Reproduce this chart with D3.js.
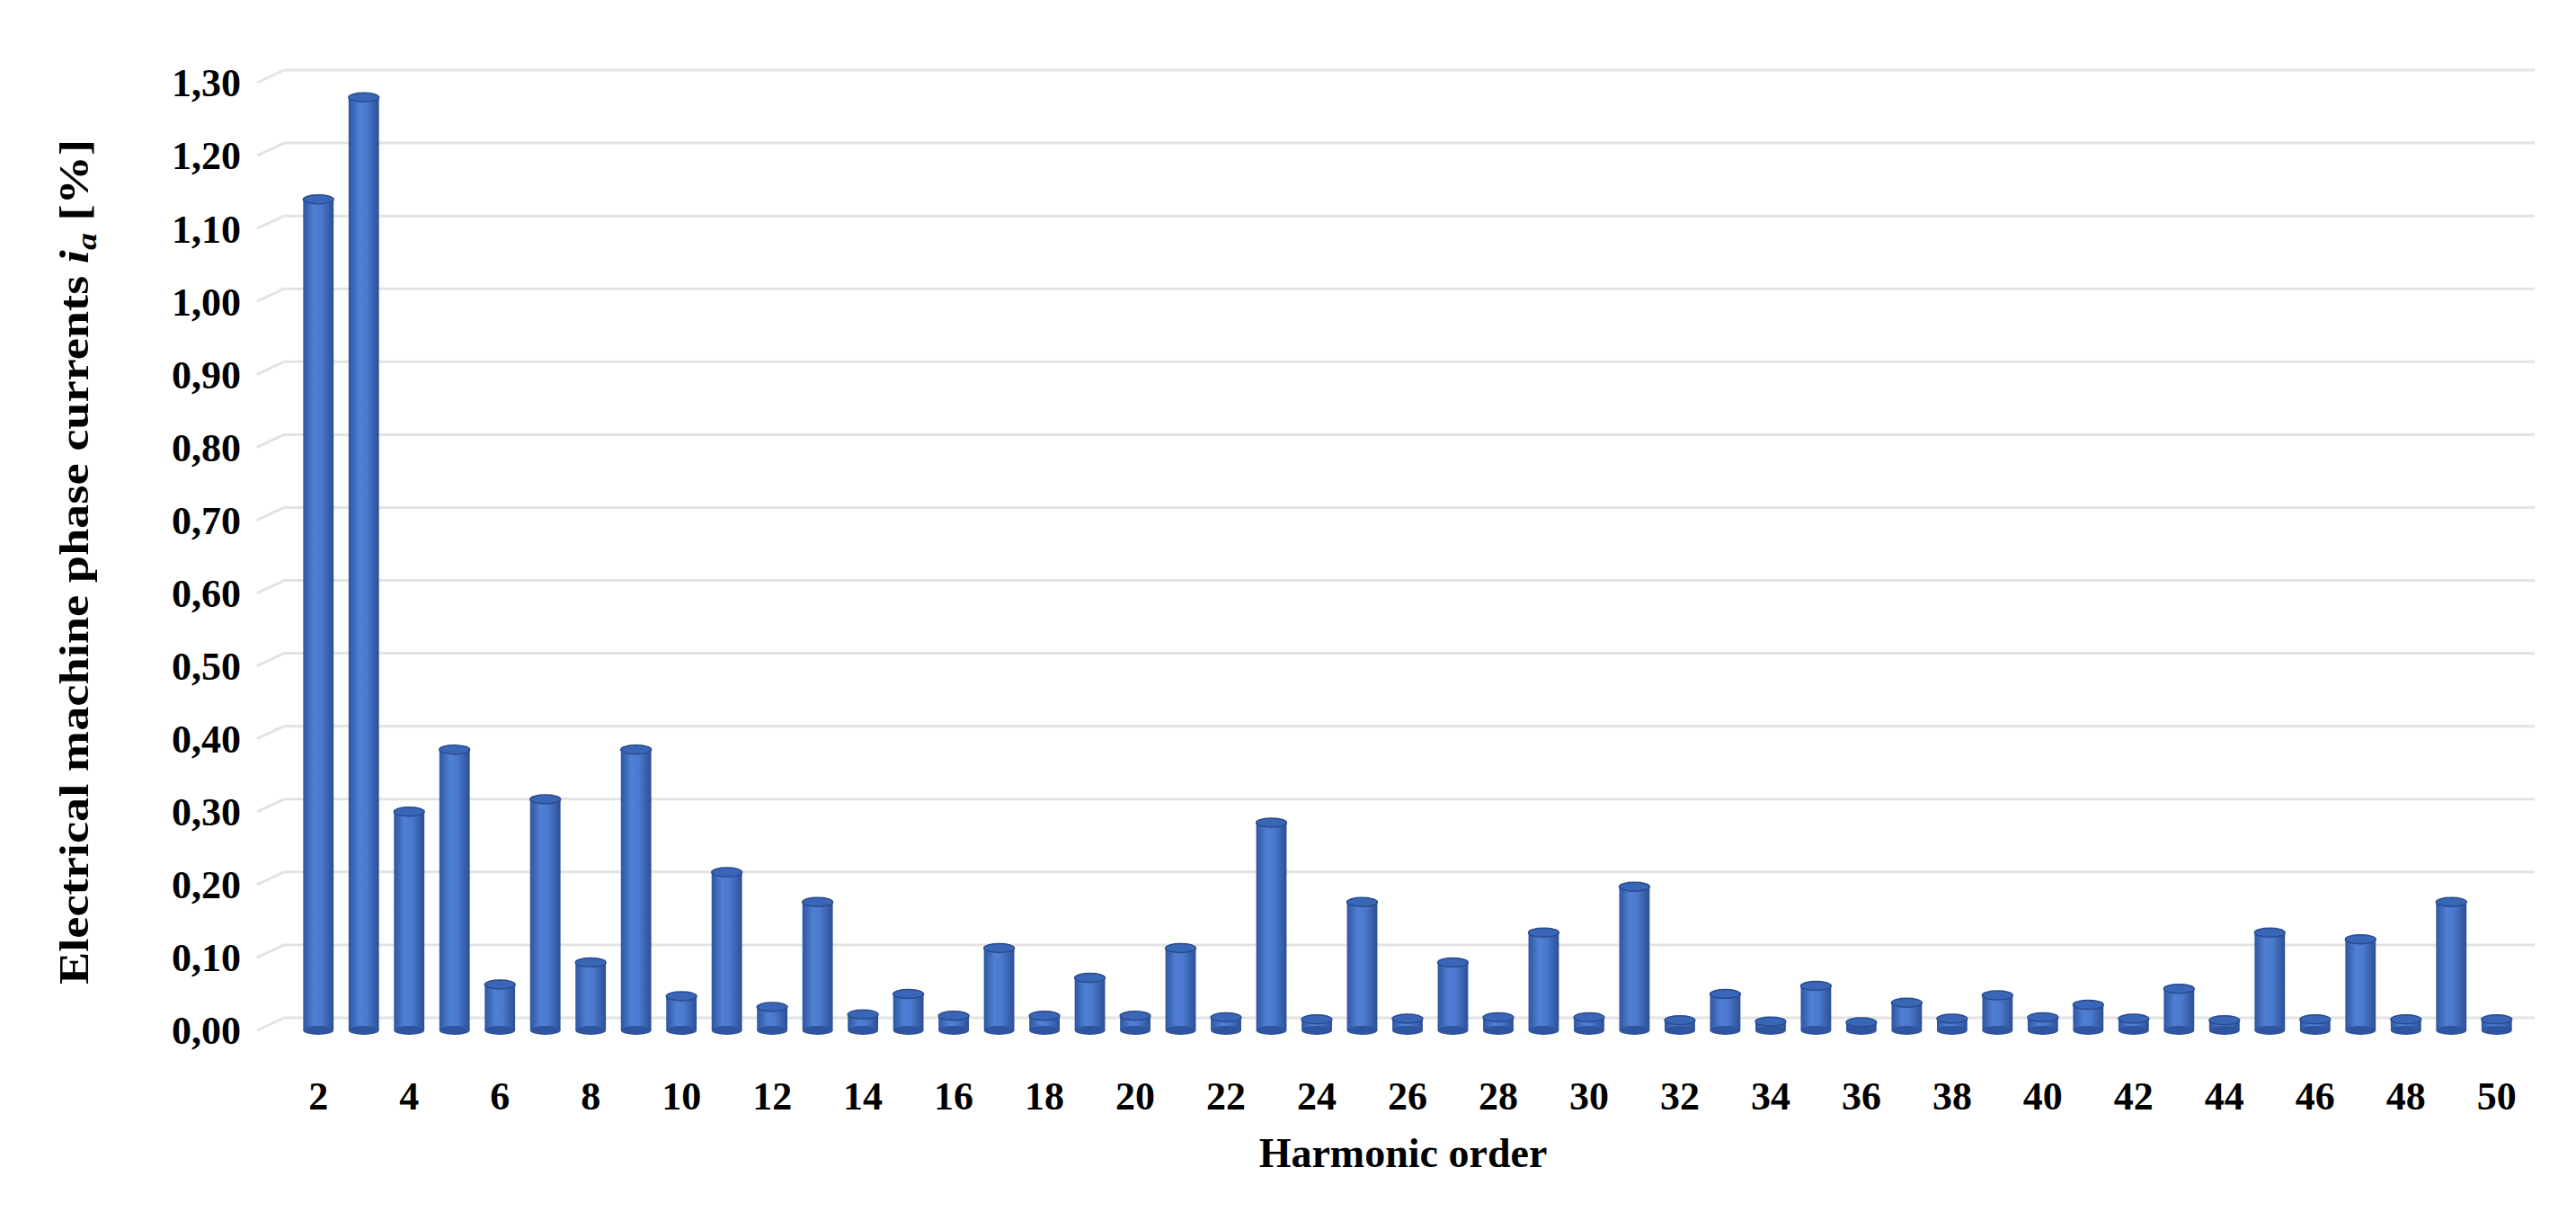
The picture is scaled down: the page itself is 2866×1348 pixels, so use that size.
<!DOCTYPE html>
<html><head><meta charset="utf-8">
<script src="https://cdn.jsdelivr.net/npm/d3@7"></script>
<style>body{margin:0;background:#fff}</style></head>
<body><svg id="c" width="2866" height="1348"></svg>
<script>
const orders = d3.range(2, 51);
const values = [1.14,1.28,0.30,0.385,0.063,0.317,0.093,0.385,0.047,0.217,0.032,0.176,0.022,0.05,0.02,0.113,0.02,0.072,0.02,0.113,0.018,0.285,0.015,0.176,0.016,0.093,0.018,0.134,0.018,0.197,0.014,0.05,0.012,0.061,0.011,0.038,0.016,0.048,0.018,0.035,0.016,0.057,0.014,0.134,0.015,0.125,0.015,0.176,0.015];
const yTicks = d3.range(0, 1.31, 0.1);
const xTickLabels = orders.filter(d => d % 2 === 0);

const svg = d3.select("#c");
const x = d3.scaleBand().domain(orders).range([329, 2803]).paddingInner(0.33).paddingOuter(0.165);
const y = d3.scaleLinear().domain([0, 1.3]).range([1146, 92]);
const fmt = d => d.toFixed(2).replace(".", ",");
const font = "'Liberation Serif','Times New Roman',serif";

const defs = svg.append("defs");
const g = defs.append("linearGradient").attr("id", "cyl").attr("x1", 0).attr("x2", 1).attr("y1", 0).attr("y2", 0);
[[0,"#2f55a0"],[0.35,"#4f80d4"],[0.6,"#4a78cc"],[1,"#2c4f95"]].forEach(([o,c]) => g.append("stop").attr("offset", o).attr("stop-color", c));

const dx = 30, dy = -14;
const grid = svg.append("g");
yTicks.forEach(t => {
  const yy = y(t);
  grid.append("line").attr("x1", 316).attr("x2", 2820).attr("y1", yy + dy).attr("y2", yy + dy).attr("stroke", "#e3e3e3").attr("stroke-width", 3);
  grid.append("line").attr("x1", 316 - dx).attr("x2", 316).attr("y1", yy).attr("y2", yy + dy).attr("stroke", "#e3e3e3").attr("stroke-width", 3);
});

svg.append("g").selectAll("text").data(yTicks).join("text")
  .attr("x", 268).attr("y", d => y(d)).attr("dy", "0.35em").attr("text-anchor", "end")
  .attr("font-family", font).attr("font-weight", "bold").attr("font-size", 44).text(fmt);

const bw = x.bandwidth(), ry = 5;
const bars = svg.append("g").selectAll("g").data(orders.map((o, i) => ({o, v: values[i]}))).join("g");
bars.append("rect").attr("x", d => x(d.o)).attr("width", bw)
  .attr("y", d => y(d.v)).attr("height", d => y(0) - y(d.v)).attr("fill", "url(#cyl)");
bars.append("ellipse").attr("cx", d => x(d.o) + bw / 2).attr("cy", y(0)).attr("rx", bw / 2).attr("ry", ry).attr("fill", "#2f55a0");
bars.append("ellipse").attr("cx", d => x(d.o) + bw / 2).attr("cy", d => y(d.v)).attr("rx", bw / 2).attr("ry", ry)
  .attr("fill", "#3a66b8").attr("stroke", "#2a4c8e").attr("stroke-width", 1.5);

svg.append("g").selectAll("text").data(xTickLabels).join("text")
  .attr("x", d => x(d) + bw / 2).attr("y", 1234).attr("text-anchor", "middle")
  .attr("font-family", font).attr("font-weight", "bold").attr("font-size", 44).text(d => d);

svg.append("text").attr("x", 1561).attr("y", 1298).attr("text-anchor", "middle")
  .attr("font-family", font).attr("font-weight", "bold").attr("font-size", 46).text("Harmonic order");

const yt = svg.append("text").attr("transform", "translate(98,625) rotate(-90)").attr("text-anchor", "middle")
  .attr("font-family", font).attr("font-weight", "bold").attr("font-size", 46)
  .attr("textLength", 940).attr("lengthAdjust", "spacingAndGlyphs");
yt.append("tspan").text("Electrical machine phase currents ");
yt.append("tspan").attr("font-style", "italic").text("i");
yt.append("tspan").attr("font-style", "italic").attr("font-size", 32).attr("dy", 9).text("a");
yt.append("tspan").attr("dy", -9).text(" [%]");
</script></body></html>
